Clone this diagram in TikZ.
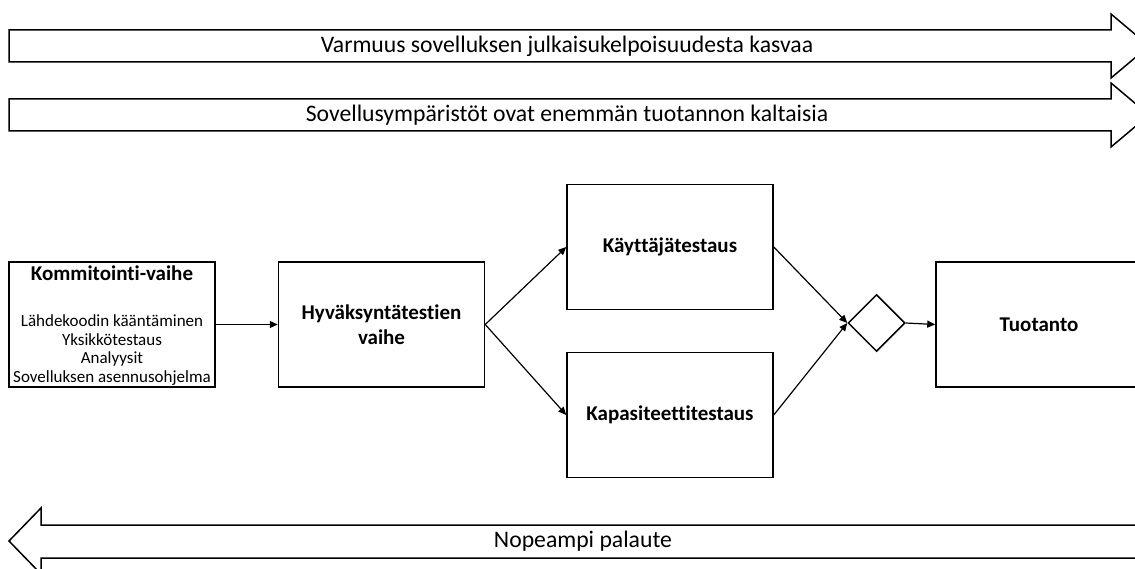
\documentclass[tikz,border=0pt]{standalone}
\usepackage{fontspec}
\setmainfont{Carlito}[Ligatures=NoCommon]
\usetikzlibrary{arrows.meta,shapes.geometric}
\tikzset{
  stage/.style={draw,line width=1.5pt,minimum width=206pt,minimum height=125pt,inner sep=0pt,align=center,font=\fontsize{21}{25.5}\selectfont\bfseries},
  merge/.style={draw,diamond,line width=1.5pt,minimum size=57pt,inner sep=0pt},
  band/.style={draw,line width=1.5pt,line join=miter},
  bandtext/.style={font=\fontsize{23.7}{28}\selectfont},
  link/.style={line width=1.2pt,-{Triangle[length=8pt,width=7pt]}},
}
\begin{document}
\begin{tikzpicture}[x=1pt,y=-1pt]
    \useasboundingbox (0,0) rectangle (1135,569);
    \begin{scope}
    \clip (0,0) rectangle (1135,569);
    \draw[band] (9,30) -- (1111,30) -- (1111,14) -- (1149,46) -- (1111,78) -- (1111,62) -- (9,62) -- cycle;
    \draw[band] (9,99) -- (1111,99) -- (1111,83) -- (1149,115) -- (1111,147) -- (1111,131) -- (9,131) -- cycle;
    \draw[band] (1150,525) -- (41,525) -- (41,508) -- (9,541) -- (41,574) -- (41,558) -- (1150,558);
    \node[bandtext] (confidence) at (567,46) {Varmuus sovelluksen julkaisukelpoisuudesta kasvaa};
    \node[bandtext] (prodlike) at (567,115) {Sovellusympäristöt ovat enemmän tuotannon kaltaisia};
    \node[bandtext] (feedback) at (583,541) {Nopeampi palaute};

    \node[stage] (commit) at (112,324.5) {};
    \node[font=\fontsize{21}{25.5}\selectfont\bfseries] (committitle) at (112,273) {Kommitointi-vaihe};
    \node[align=center,font=\fontsize{17}{18.7}\selectfont] (commitsteps) at (112,350)
      {Lähdekoodin kääntäminen\\Yksikkötestaus\\Analyysit\\Sovelluksen asennusohjelma};
    \node[stage] (accept) at (381.5,324.5) {Hyväksyntätestien\\vaihe};
    \node[stage] (usertest) at (670,247) {Käyttäjätestaus};
    \node[stage] (loadtest) at (670,415) {Kapasiteettitestaus};
    \node[merge] (gate) at (876.5,323) {};
    \node[stage] (prod) at (1039,324.5) {Tuotanto};

    \draw[link] (commit.east) -- (accept.west);
    \draw[link] (accept.east) -- (usertest.west);
    \draw[link] (accept.east) -- (loadtest.west);
    \draw[link] (usertest.east) -- (gate.west);
    \draw[link] (loadtest.east) -- (gate.west);
    \draw[link] (gate.east) -- (prod.west);
    \end{scope}
  \end{tikzpicture}
\end{document}
